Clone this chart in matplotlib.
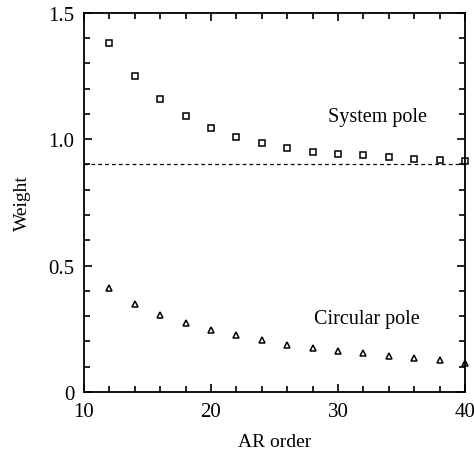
import numpy as np
import matplotlib
matplotlib.use("Agg")
import matplotlib.pyplot as plt
from matplotlib.ticker import MultipleLocator

# ----- Data -----
ar_order = [12, 14, 16, 18, 20, 22, 24, 26, 28, 30, 32, 34, 36, 38, 40]
system_pole = [1.379, 1.249, 1.158, 1.091, 1.044, 1.009, 0.984, 0.964, 0.950,
               0.942, 0.936, 0.928, 0.921, 0.917, 0.913]
circular_pole = [0.410, 0.349, 0.305, 0.274, 0.245, 0.224, 0.204, 0.187, 0.175,
                 0.161, 0.153, 0.144, 0.133, 0.126, 0.113]
threshold = 0.9

plt.rcParams['font.family'] = ['Liberation Serif', 'DejaVu Serif']
plt.rcParams['font.size'] = 14

fig = plt.figure(figsize=(4.74, 4.56), dpi=100)
ax = fig.add_axes([0.177, 0.138, 0.804, 0.832])

ax.plot(ar_order, system_pole, 's', ms=5, mfc='white', mec='black', mew=1.1,
        clip_on=False)
ax.plot(ar_order, circular_pole, '^', ms=5, mfc='white', mec='black', mew=1.1,
        clip_on=False)
ax.axhline(threshold, color='black', lw=0.9, ls=(0, (3, 2.5)))

ax.text(33.1, 1.09, "System pole", ha='center', va='center', fontsize=14.5)
ax.text(32.3, 0.292, "Circular pole", ha='center', va='center', fontsize=14.5)

ax.set_xlim(10, 40)
ax.set_ylim(0, 1.5)
ax.xaxis.set_major_locator(MultipleLocator(10))
ax.xaxis.set_minor_locator(MultipleLocator(2))
ax.yaxis.set_major_locator(MultipleLocator(0.5))
ax.yaxis.set_minor_locator(MultipleLocator(0.1))
ax.set_yticks([0, 0.5, 1.0, 1.5])
ax.set_yticklabels(["0", "0.5", "1.0", "1.5"])

ax.tick_params(which='both', direction='in', top=True, right=True,
               width=1.2, colors='black', labelsize=15)
ax.tick_params(which='major', length=6, pad=7)
ax.tick_params(which='minor', length=4)
for s in ax.spines.values():
    s.set_linewidth(1.3)

ax.set_xlabel("AR order", labelpad=9)
ax.set_ylabel("Weight", labelpad=12)

fig.savefig("out.png", dpi=100)
